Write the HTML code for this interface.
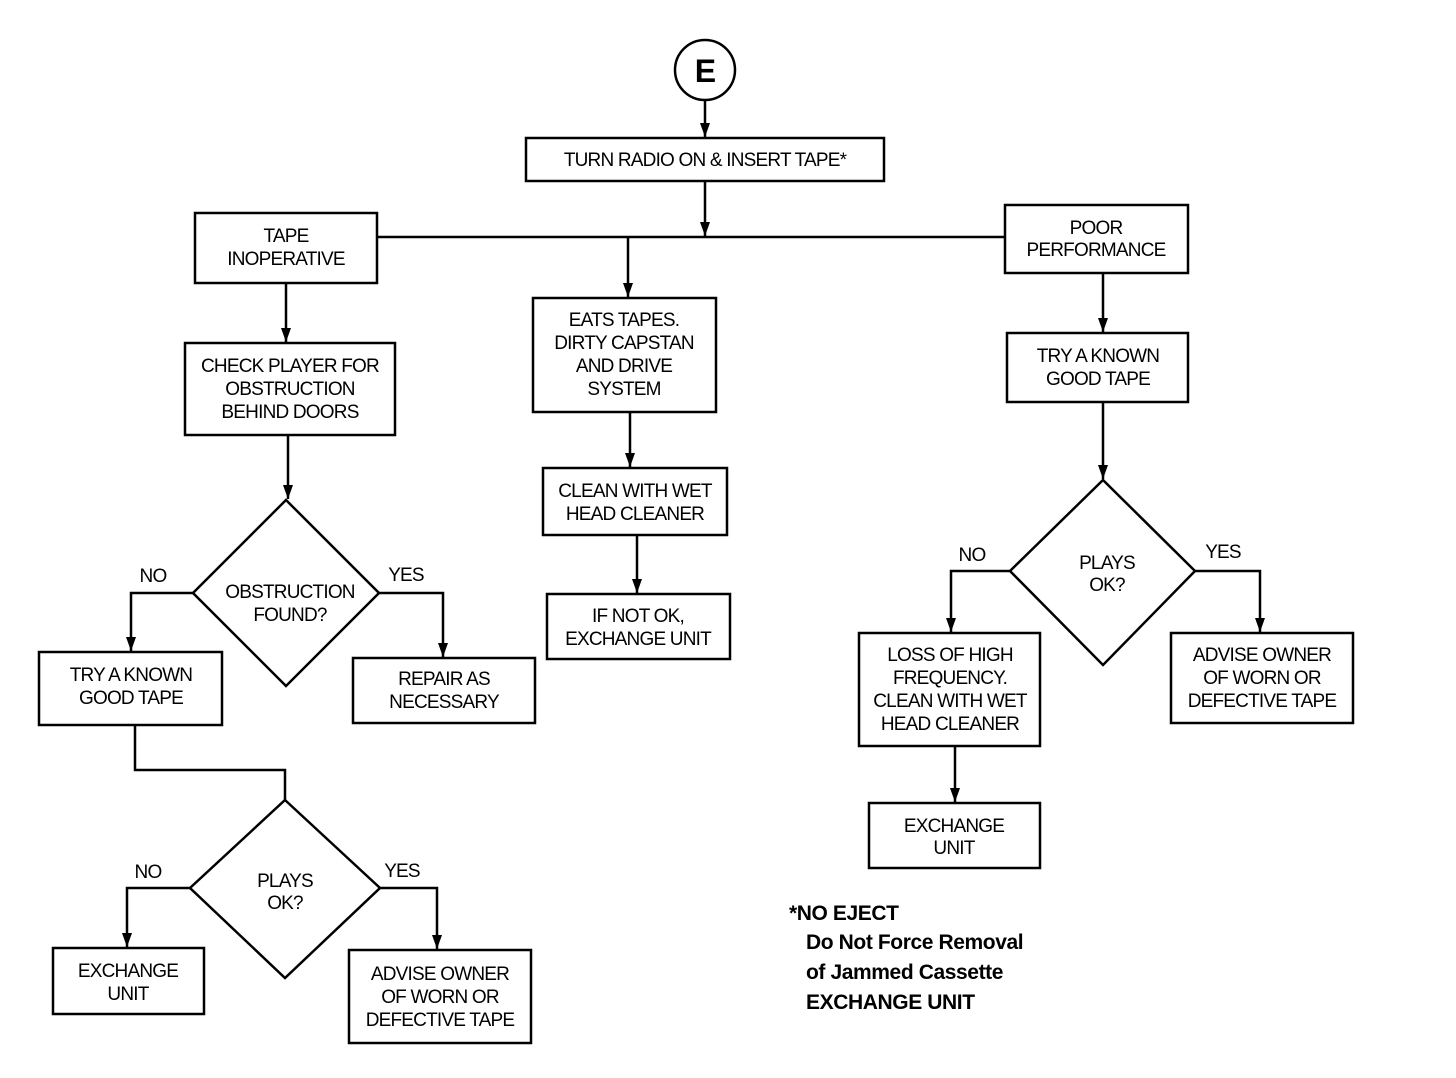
<!DOCTYPE html>
<html><head><meta charset="utf-8"><style>
html,body{margin:0;padding:0;background:#fff;}
svg{display:block;}
text{font-family:"Liberation Sans",sans-serif;font-size:19px;fill:#000;text-anchor:middle;letter-spacing:-0.8px;}
.b{font-weight:bold;text-anchor:start;font-size:21px;letter-spacing:-0.4px;}
rect,polygon,circle{fill:#fff;stroke:#000;stroke-width:2.5;}
line,polyline{stroke:#000;stroke-width:2.5;fill:none;}
</style></head><body>
<svg width="1456" height="1078" viewBox="0 0 1456 1078" xmlns="http://www.w3.org/2000/svg">
<defs><marker id="a" markerWidth="14" markerHeight="10" refX="14" refY="5" orient="auto" markerUnits="userSpaceOnUse" viewBox="0 0 14 10"><polygon points="0,0 14,5 0,10" style="fill:#000;stroke:none"/></marker></defs>
<circle cx="705" cy="70" r="30"/>
<text x="705" y="82" style="font-size:32px;font-weight:bold">E</text>
<line x1="705" y1="100" x2="705" y2="137" marker-end="url(#a)"/>
<rect x="526" y="138" width="358" height="43"/>
<text x="705" y="166">TURN RADIO ON &amp; INSERT TAPE*</text>
<line x1="705" y1="181" x2="705" y2="236" marker-end="url(#a)"/>
<line x1="377" y1="237" x2="1005" y2="237"/>
<rect x="195" y="213" width="182" height="70"/>
<text x="286" y="242">TAPE</text><text x="286" y="265">INOPERATIVE</text>
<rect x="1005" y="205" width="183" height="68"/>
<text x="1096" y="234">POOR</text><text x="1096" y="256">PERFORMANCE</text>
<line x1="628" y1="237" x2="628" y2="297" marker-end="url(#a)"/>
<rect x="533" y="298" width="183" height="114"/>
<text x="624" y="326">EATS TAPES.</text><text x="624" y="349">DIRTY CAPSTAN</text><text x="624" y="372">AND DRIVE</text><text x="624" y="395">SYSTEM</text>
<line x1="630" y1="412" x2="630" y2="467" marker-end="url(#a)"/>
<rect x="543" y="468" width="184" height="67"/>
<text x="635" y="497">CLEAN WITH WET</text><text x="635" y="520">HEAD CLEANER</text>
<line x1="637" y1="535" x2="637" y2="593" marker-end="url(#a)"/>
<rect x="547" y="594" width="183" height="65"/>
<text x="638" y="622">IF NOT OK,</text><text x="638" y="645">EXCHANGE UNIT</text>
<line x1="286" y1="283" x2="286" y2="342" marker-end="url(#a)"/>
<rect x="185" y="343" width="210" height="92"/>
<text x="290" y="372">CHECK PLAYER FOR</text><text x="290" y="395">OBSTRUCTION</text><text x="290" y="418">BEHIND DOORS</text>
<line x1="288" y1="435" x2="288" y2="499" marker-end="url(#a)"/>
<polygon points="286,500 379,593 286,686 193,593"/>
<text x="290" y="598">OBSTRUCTION</text><text x="290" y="621">FOUND?</text>
<polyline points="193,593 131,593 131,651" marker-end="url(#a)"/>
<text x="153" y="582">NO</text>
<polyline points="379,593 443,593 443,657" marker-end="url(#a)"/>
<text x="406" y="581">YES</text>
<rect x="39" y="652" width="183" height="73"/>
<text x="131" y="681">TRY A KNOWN</text><text x="131" y="704">GOOD TAPE</text>
<rect x="353" y="658" width="182" height="65"/>
<text x="444" y="685">REPAIR AS</text><text x="444" y="708">NECESSARY</text>
<polyline points="135,725 135,770 285,770 285,800"/>
<polygon points="285,800 380,888 285,978 190,888"/>
<text x="285" y="887">PLAYS</text><text x="285" y="909">OK?</text>
<polyline points="190,888 127,888 127,947" marker-end="url(#a)"/>
<text x="148" y="878">NO</text>
<polyline points="380,888 437,888 437,949" marker-end="url(#a)"/>
<text x="402" y="877">YES</text>
<rect x="53" y="948" width="151" height="66"/>
<text x="128" y="977">EXCHANGE</text><text x="128" y="1000">UNIT</text>
<rect x="349" y="950" width="182" height="93"/>
<text x="440" y="980">ADVISE OWNER</text><text x="440" y="1003">OF WORN OR</text><text x="440" y="1026">DEFECTIVE TAPE</text>
<line x1="1103" y1="273" x2="1103" y2="332" marker-end="url(#a)"/>
<rect x="1007" y="333" width="181" height="69"/>
<text x="1098" y="362">TRY A KNOWN</text><text x="1098" y="385">GOOD TAPE</text>
<line x1="1103" y1="402" x2="1103" y2="479" marker-end="url(#a)"/>
<polygon points="1103,480 1195,571 1103,665 1010,571"/>
<text x="1107" y="569">PLAYS</text><text x="1107" y="591">OK?</text>
<polyline points="1010,571 951,571 951,632" marker-end="url(#a)"/>
<text x="972" y="561">NO</text>
<polyline points="1195,571 1260,571 1260,632" marker-end="url(#a)"/>
<text x="1223" y="558">YES</text>
<rect x="859" y="633" width="181" height="113"/>
<text x="950" y="661">LOSS OF HIGH</text><text x="950" y="684">FREQUENCY.</text><text x="950" y="707">CLEAN WITH WET</text><text x="950" y="730">HEAD CLEANER</text>
<line x1="955" y1="746" x2="955" y2="802" marker-end="url(#a)"/>
<rect x="869" y="803" width="171" height="65"/>
<text x="954" y="832">EXCHANGE</text><text x="954" y="854">UNIT</text>
<rect x="1171" y="633" width="182" height="90"/>
<text x="1262" y="661">ADVISE OWNER</text><text x="1262" y="684">OF WORN OR</text><text x="1262" y="707">DEFECTIVE TAPE</text>
<text class="b" x="789" y="920">*NO EJECT</text>
<text class="b" x="806" y="949">Do Not Force Removal</text>
<text class="b" x="806" y="979">of Jammed Cassette</text>
<text class="b" x="806" y="1009">EXCHANGE UNIT</text>
</svg>
</body></html>
